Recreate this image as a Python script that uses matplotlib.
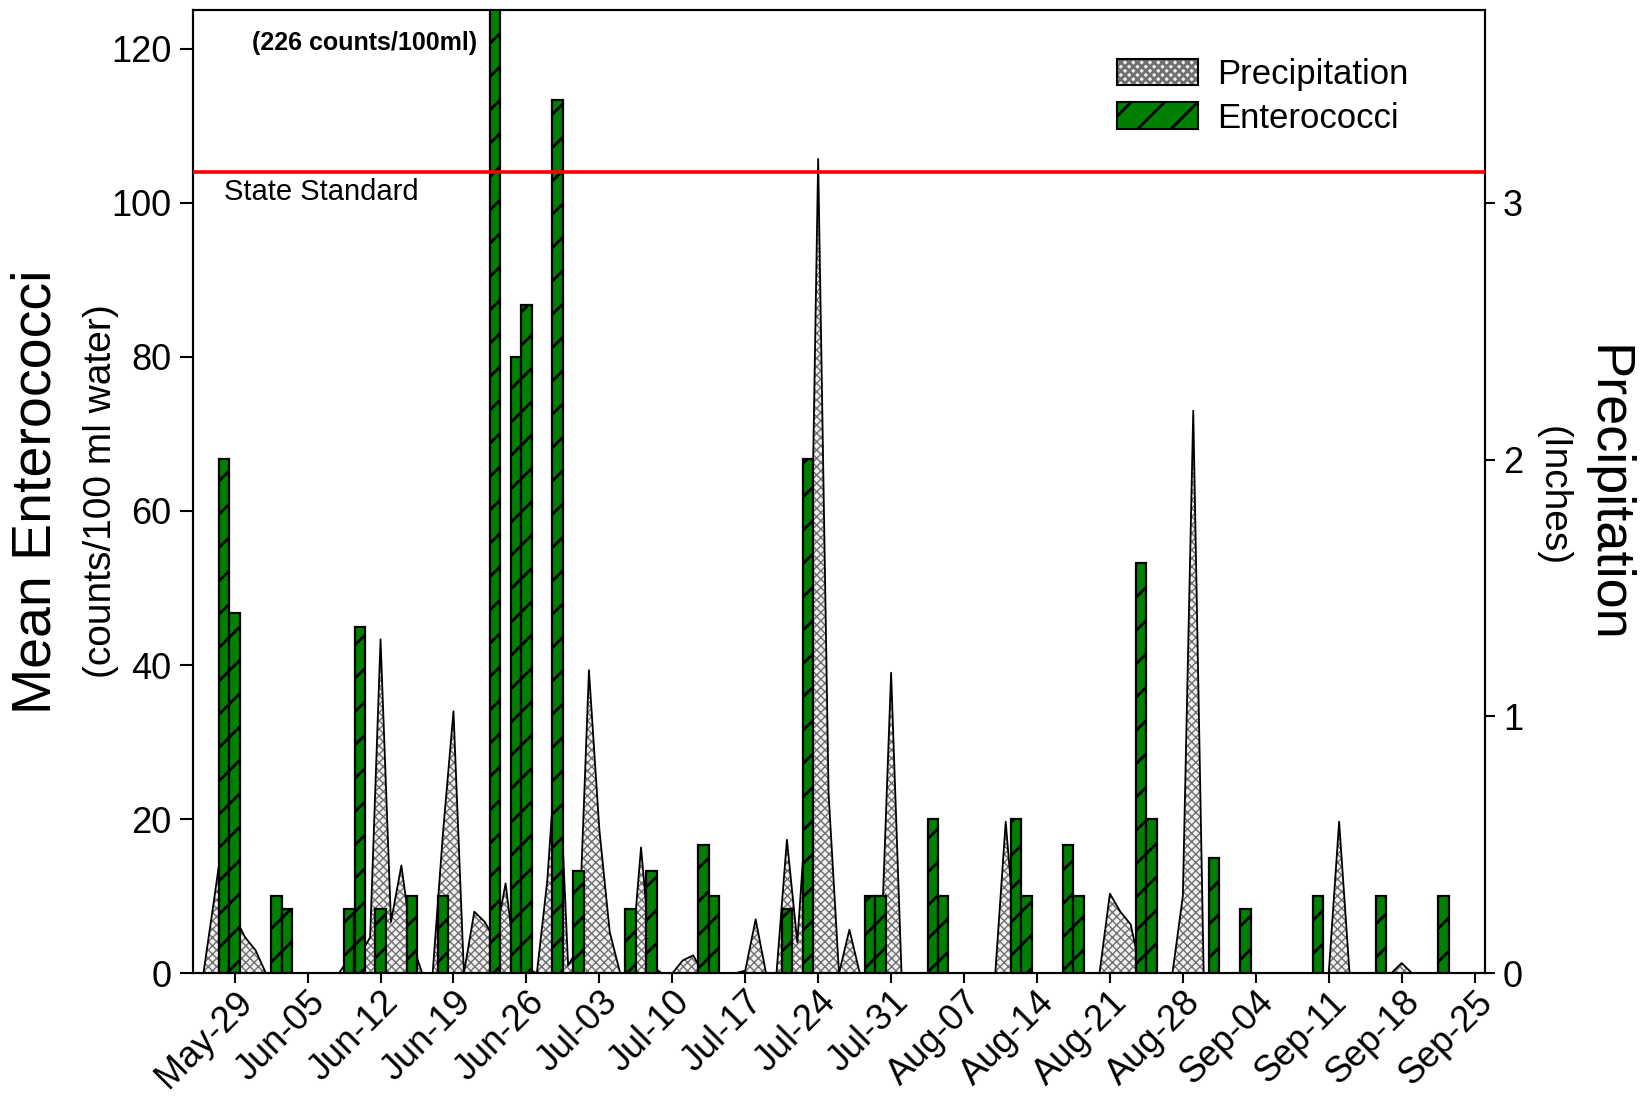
import matplotlib

matplotlib.use("Agg")
import matplotlib.pyplot as plt
import matplotlib.dates as mdates
from matplotlib.patches import Patch
from matplotlib.legend_handler import HandlerTuple
import pandas as pd

plt.rcParams["font.family"] = ["Liberation Sans", "DejaVu Sans"]
plt.rcParams["hatch.linewidth"] = 2.0

YEAR = 2006

# mean enterococci per sampling day (counts/100 ml)
ent_dates = ["05-28", "05-29", "06-02", "06-03", "06-09", "06-10", "06-12", "06-15", "06-18",
             "06-23", "06-25", "06-26", "06-29", "07-01", "07-06", "07-08", "07-13", "07-14",
             "07-21", "07-23", "07-29", "07-30", "08-04", "08-05", "08-12", "08-13", "08-17",
             "08-18", "08-24", "08-25", "08-31", "09-03", "09-10", "09-16", "09-22"]
ent_values = [66.7, 46.7, 10, 8.3, 8.3, 45, 8.3, 10, 10,
              226, 80, 86.7, 113.3, 13.3, 8.3, 13.3, 16.7, 10,
              8.3, 66.7, 10, 10, 20, 10, 20, 10, 16.7,
              10, 53.3, 20, 15, 8.3, 10, 10, 10]

# daily precipitation (inches)
precip_dates = ["05-25", "05-26", "05-27", "05-28", "05-29", "05-30", "05-31", "06-01",
                "06-08", "06-09", "06-10", "06-11", "06-12", "06-13", "06-14", "06-15",
                "06-16", "06-17", "06-18", "06-19", "06-20", "06-21", "06-22", "06-23",
                "06-24", "06-25", "06-26", "06-27", "06-28", "06-29", "06-30", "07-01",
                "07-02", "07-03", "07-04", "07-05", "07-06", "07-07", "07-08", "07-09",
                "07-10", "07-11", "07-12", "07-13", "07-16", "07-17", "07-18", "07-19",
                "07-20", "07-21", "07-22", "07-23", "07-24", "07-25", "07-26", "07-27",
                "07-28", "07-29", "07-30", "07-31", "08-01", "08-10", "08-11", "08-12",
                "08-13", "08-20", "08-21", "08-22", "08-23", "08-24", "08-27", "08-28",
                "08-29", "08-30", "09-11", "09-12", "09-13", "09-17", "09-18", "09-19",
                "09-26"]
precip_values = [0, 0, 0.28, 0.57, 0.22, 0.14, 0.09, 0,
                 0, 0.06, 0.07, 0.14, 1.30, 0.20, 0.42, 0.12,
                 0, 0, 0.55, 1.02, 0, 0.24, 0.20, 0.13,
                 0.35, 0.02, 0.02, 0, 0.36, 0.95, 0.03, 0.10,
                 1.18, 0.56, 0.16, 0, 0, 0.49, 0.03, 0,
                 0, 0.05, 0.07, 0, 0, 0.01, 0.21, 0,
                 0, 0.52, 0.12, 0.72, 3.17, 0.70, 0, 0.17,
                 0, 0, 0.05, 1.17, 0, 0, 0.59, 0.10,
                 0, 0, 0.31, 0.24, 0.19, 0, 0, 0.30,
                 2.19, 0, 0, 0.59, 0, 0, 0.04, 0,
                 0]

tick_dates = ["05-29", "06-05", "06-12", "06-19", "06-26", "07-03", "07-10", "07-17", "07-24",
              "07-31", "08-07", "08-14", "08-21", "08-28", "09-04", "09-11", "09-18", "09-25"]

state_standard = 104
left_ticks = [0, 20, 40, 60, 80, 100, 120]
right_ticks = [0, 1, 2, 3]


def to_dates(md):
    return pd.to_datetime([f"{YEAR}-{d}" for d in md])


def main():
    ent_x = to_dates(ent_dates)
    pr_x = to_dates(precip_dates)
    ticks = to_dates(tick_dates)

    fig = plt.figure(figsize=(16.41, 11.01), dpi=100)
    ax1 = fig.add_axes([193 / 1641, 1 - 973.3 / 1101, 1292 / 1641, 963.3 / 1101])
    ax2 = ax1.twinx()
    ax1.set_zorder(2)
    ax2.set_zorder(1)
    ax1.patch.set_visible(False)

    # precipitation area on the right axis
    fill = ax2.fill_between(pr_x, 0, precip_values, facecolor="#f0f0f0", edgecolor="#707070",
                            hatch="xxxx", linewidth=0)
    if hasattr(fill, "set_hatch_linewidth"):
        fill.set_hatch_linewidth(1.0)
    ax2.plot(pr_x, precip_values, color="black", lw=1.3)
    ax2.set_ylim(0, 3.75)
    ax2.set_yticks(right_ticks)

    bars = ax1.bar(ent_x, ent_values, width=1.0, color="#008000", edgecolor="black",
                   linewidth=1.6, hatch="/")
    for b in bars:
        if hasattr(b, "set_hatch_linewidth"):
            b.set_hatch_linewidth(2.0)
    ax1.axhline(state_standard, color="red", lw=2.6, zorder=5)
    ax1.set_ylim(0, 125)
    ax1.set_yticks(left_ticks)
    ax1.set_xlim(pd.Timestamp(f"{YEAR}-05-25"), pd.Timestamp(f"{YEAR}-09-26"))
    ax1.set_xticks(ticks)
    ax1.xaxis.set_major_formatter(mdates.DateFormatter("%b-%d"))
    plt.setp(ax1.get_xticklabels(), rotation=45, ha="right", va="top", rotation_mode="anchor")

    for a in (ax1, ax2):
        for s in a.spines.values():
            s.set_linewidth(1.5)
        a.tick_params(direction="out", length=9, width=1.5, labelsize=26)
    ax1.tick_params(axis="y", length=9.5, pad=6)
    ax1.tick_params(axis="x", length=7, pad=1)
    ax2.tick_params(axis="y", length=7, pad=6)

    ax1.text(pd.Timestamp(f"{YEAR}-05-28"), 101.4, "State Standard", fontsize=21,
             va="center", ha="left")
    ax1.text(pd.Timestamp(f"{YEAR}-06-21 07:00"), 120.7, "(226 counts/100ml)", fontsize=18,
             fontweight="bold", va="center", ha="right")

    fig.text(36.6 / 1641, 1 - 492 / 1101, "Mean Enterococci", rotation=90, fontsize=40,
             ha="center", va="center")
    fig.text(101.5 / 1641, 1 - 491 / 1101, "(counts/100 ml water)", rotation=90, fontsize=28,
             ha="center", va="center")
    fig.text(1606 / 1641, 1 - 494 / 1101, "Precipitation", rotation=270, fontsize=39,
             ha="center", va="center")
    fig.text(1553 / 1641, 1 - 495.6 / 1101, "(Inches)", rotation=270, fontsize=28,
             ha="center", va="center")

    h_pr = (Patch(facecolor="#f0f0f0", edgecolor="#707070", hatch="xxxx", linewidth=0),
            Patch(facecolor="none", edgecolor="black", linewidth=1.5))
    h_ent = Patch(facecolor="#008000", edgecolor="black", hatch="/", linewidth=1.5)
    ax1.legend([h_pr, h_ent], ["Precipitation", "Enterococci"], loc="upper left",
               bbox_to_anchor=(0.715, 0.95), frameon=False, fontsize=25, borderpad=0,
               borderaxespad=0, handlelength=2.33, handleheight=0.8, handletextpad=0.55,
               labelspacing=0.3, handler_map={tuple: HandlerTuple(ndivide=1, pad=0)})

    fig.savefig("out.png", dpi=100)
    plt.close(fig)


if __name__ == "__main__":
    main()
